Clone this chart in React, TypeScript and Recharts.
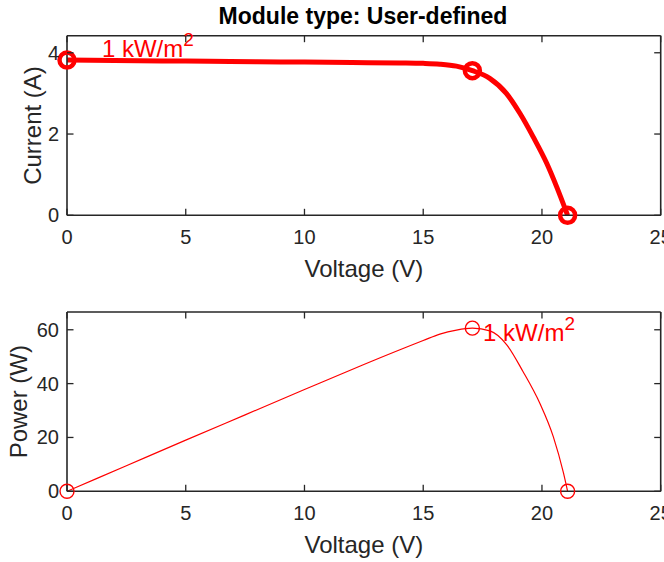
import { ComposedChart, Line, XAxis, YAxis, ReferenceDot, Label } from 'recharts'

const AXIS = '#262626'
const RED = '#ff0000'
const FONT = '"Liberation Sans", Arial, Helvetica, sans-serif'

const TITLE = 'Module type: User-defined'
const IRRADIANCE = '1 kW/m'

const VOLT_TICKS = [0, 5, 10, 15, 20, 25]
const CURRENT_TICKS = [0, 2, 4]
const POWER_TICKS = [0, 20, 40, 60]

// I-V curve
const IV_VOLTAGE = [0, 2, 4, 6, 8, 10, 12, 14, 15, 15.7, 16.4, 17.07, 17.8, 18.5, 19.07, 19.63, 20.2, 20.62, 21.08]
const IV_CURRENT = [3.82, 3.81, 3.8, 3.79, 3.78, 3.77, 3.76, 3.75, 3.74, 3.72, 3.67, 3.56, 3.37, 3.0, 2.51, 1.93, 1.28, 0.7, 0]

// P-V curve
const PV_VOLTAGE = [0, 2.5, 5, 7.5, 10, 12.5, 15, 15.7, 16.4, 17.07, 17.81, 18.51, 19.2, 19.92, 20.48, 20.9, 21.08]
const PV_POWER = [0, 9.5, 19.0, 28.4, 37.8, 47.1, 56.0, 58.4, 59.9, 60.6, 59.6, 54.5, 44.5, 32.5, 20.2, 7.0, 0]

// short circuit, maximum power point, open circuit
const MARK_VOLTAGE = [0, 17.07, 21.08]
const MARK_CURRENT = [3.82, 3.56, 0]
const MARK_POWER = [0, 60.6, 0]

// where the irradiance text sits, in data units
const IV_TEXT_AT = { v: 1.47, y: 3.89 }
const PV_TEXT_AT = { v: 17.52, y: 56 }

const ivData = IV_VOLTAGE.map((v, k) => ({ v, i: IV_CURRENT[k] }))
const pvData = PV_VOLTAGE.map((v, k) => ({ v, p: PV_POWER[k] }))

type TickProps = { x: number; y: number; payload: { value: number } }

const bottomTick = ({ x, y, payload }: TickProps) => (
  <g>
    <line x1={x} x2={x} y1={y} y2={y - 6.5} stroke={AXIS} strokeWidth={1.3} />
    <text x={x} y={y + 29} textAnchor="middle" fontSize={20} fill={AXIS} fontFamily={FONT}>
      {payload.value}
    </text>
  </g>
)
const leftTick = ({ x, y, payload }: TickProps) => (
  <g>
    <line x1={x} x2={x + 6.5} y1={y} y2={y} stroke={AXIS} strokeWidth={1.3} />
    <text x={x - 8} y={y + 7} textAnchor="end" fontSize={20} fill={AXIS} fontFamily={FONT}>
      {payload.value}
    </text>
  </g>
)
const topTick = ({ x, y }: TickProps) => (
  <line x1={x} x2={x} y1={y} y2={y + 6.5} stroke={AXIS} strokeWidth={1.3} />
)
const rightTick = ({ x, y }: TickProps) => (
  <line x1={x} x2={x - 6.5} y1={y} y2={y} stroke={AXIS} strokeWidth={1.3} />
)

const xLabel = (offset: number) => ({ viewBox }: any) => (
  <text
    x={viewBox.x + viewBox.width / 2}
    y={viewBox.y + offset}
    textAnchor="middle"
    fontSize={24}
    fill={AXIS}
    fontFamily={FONT}
  >
    Voltage (V)
  </text>
)
const yLabel = (text: string, cx: number) => ({ viewBox }: any) => (
  <text
    transform={`translate(${cx}, ${viewBox.y + viewBox.height / 2}) rotate(-90)`}
    textAnchor="middle"
    fontSize={24}
    fill={AXIS}
    fontFamily={FONT}
  >
    {text}
  </text>
)

const irradianceText = (p: any) => (
  <text x={p.cx} y={p.cy} fontSize={24} fill={RED} fontFamily={FONT}>
    {IRRADIANCE}
    <tspan dy={-11} fontSize={19}>2</tspan>
  </text>
)

const axisLine = { stroke: AXIS, strokeWidth: 1.6 }

function Panel(props: {
  height: number
  box: { top: number; right: number; bottom: number; left: number }
  data: any[]
  yKey: string
  yDomain: [number, number]
  yTicks: number[]
  yName: string
  yNameX: number
  marks: number[]
  lineWidth: number
  markR: number
  markWidth: number
  textAt: { v: number; y: number }
}) {
  const { height, box, data, yKey, yDomain, yTicks, yName, yNameX, marks, lineWidth, markR, markWidth, textAt } = props
  // axes are 1px thick, so take them off the margins
  const margin = { top: box.top - 1, right: box.right - 1, bottom: box.bottom - 1, left: box.left - 1 }
  return (
    <ComposedChart width={664} height={height} data={data} margin={margin}>
      <XAxis
        type="number"
        dataKey="v"
        domain={[0, 25]}
        ticks={VOLT_TICKS}
        interval={0}
        height={1}
        tickSize={0}
        tickMargin={0}
        tickLine={false}
        tick={bottomTick}
        axisLine={axisLine}
        allowDataOverflow
      >
        <Label content={xLabel(45 + 17)} />
      </XAxis>
      <XAxis
        xAxisId="top"
        orientation="top"
        type="number"
        dataKey="v"
        domain={[0, 25]}
        ticks={VOLT_TICKS}
        interval={0}
        height={1}
        tickSize={0}
        tickMargin={0}
        tickLine={false}
        tick={topTick}
        axisLine={axisLine}
        allowDataOverflow
      />
      <YAxis
        type="number"
        domain={yDomain}
        ticks={yTicks}
        interval={0}
        width={1}
        tickSize={0}
        tickMargin={0}
        tickLine={false}
        tick={leftTick}
        axisLine={axisLine}
        allowDataOverflow
      >
        <Label content={yLabel(yName, yNameX)} />
      </YAxis>
      <YAxis
        yAxisId="right"
        orientation="right"
        type="number"
        domain={yDomain}
        ticks={yTicks}
        interval={0}
        width={1}
        tickSize={0}
        tickMargin={0}
        tickLine={false}
        tick={rightTick}
        axisLine={axisLine}
        allowDataOverflow
      />
      <Line
        type="monotone"
        dataKey={yKey}
        stroke={RED}
        strokeWidth={lineWidth}
        dot={false}
        activeDot={false}
        isAnimationActive={false}
      />
      {MARK_VOLTAGE.map((v, k) => (
        <ReferenceDot
          key={k}
          x={v}
          y={marks[k]}
          r={markR}
          fill="none"
          stroke={RED}
          strokeWidth={markWidth}
          ifOverflow="visible"
        />
      ))}
      <ReferenceDot x={textAt.v} y={textAt.y} r={0} ifOverflow="visible" shape={irradianceText} />
    </ComposedChart>
  )
}

export default function App() {
  return (
    <div style={{ position: 'absolute', left: 0, top: 0, width: 664, height: 562, background: '#fff', overflow: 'hidden' }}>
      <div
        style={{
          position: 'absolute',
          left: 63,
          top: 5,
          width: 600,
          textAlign: 'center',
          fontFamily: FONT,
          fontWeight: 'bold',
          fontSize: 23,
          lineHeight: '23px',
          color: '#000',
        }}
      >
        {TITLE}
      </div>
      <div style={{ position: 'absolute', left: 0, top: 0 }}>
        <Panel
          height={292}
          box={{ top: 35.7, right: 3.3, bottom: 76.7, left: 67 }}
          data={ivData}
          yKey="i"
          yDomain={[0, 4.42]}
          yTicks={CURRENT_TICKS}
          yName="Current (A)"
          yNameX={41}
          marks={MARK_CURRENT}
          lineWidth={5}
          markR={7.5}
          markWidth={4.5}
          textAt={IV_TEXT_AT}
        />
      </div>
      <div style={{ position: 'absolute', left: 0, top: 292 }}>
        <Panel
          height={270}
          box={{ top: 20, right: 3.3, bottom: 70.7, left: 67 }}
          data={pvData}
          yKey="p"
          yDomain={[0, 66.6]}
          yTicks={POWER_TICKS}
          yName="Power (W)"
          yNameX={27}
          marks={MARK_POWER}
          lineWidth={1.2}
          markR={7}
          markWidth={1.4}
          textAt={PV_TEXT_AT}
        />
      </div>
    </div>
  )
}
